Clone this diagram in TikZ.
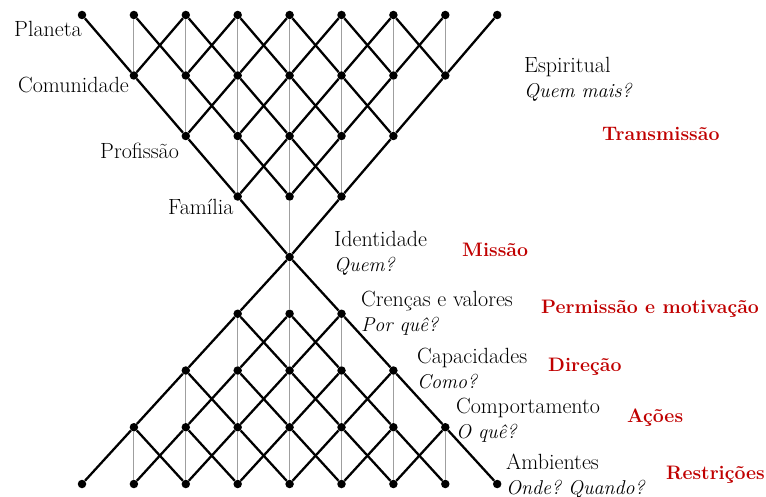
\documentclass[tikz,border=0pt]{standalone}
\usepackage{fontspec}
\usepackage{tikz}
\usetikzlibrary{positioning}
\definecolor{redlabel}{RGB}{192,0,0}
\newcommand\levelq[1]{{\fontsize{20}{25}\selectfont\itshape #1}}
\frenchspacing

\begin{document}
\begin{tikzpicture}[x=1pt,y=-1pt,font=\fontsize{22}{25}\selectfont,
  dot/.style={circle,fill=black,inner sep=0pt,minimum size=8.5pt},
  link/.style={line width=2.3pt,black},
  rung/.style={line width=1.1pt,gray!75},
  level/.style={anchor=west,inner sep=0pt,align=left},
  role/.style={anchor=west,inner sep=0pt,text=redlabel,font=\fontsize{19.5}{24}\selectfont\bfseries}]
\useasboundingbox (0,0) rectangle (766,497);
% lattice points, row k has indices 4-|4-k| .. 4+|4-k|
\foreach \k/\yy in {0/15,1/75.5,2/136,3/196.5,4/257,5/313.75,6/370.5,7/427.25,8/484} {
  \pgfmathtruncatemacro\lo{4-abs(4-\k)}
  \pgfmathtruncatemacro\hi{4+abs(4-\k)}
  \foreach \i in {\lo,...,\hi}
    \node[dot] (p-\k-\i) at ({82+51.9*\i},\yy) {};
}
% upper half
\foreach \k in {0,...,3} {
  \pgfmathtruncatemacro\n{\k+1}
  \pgfmathtruncatemacro\lo{4-abs(4-\n)}
  \pgfmathtruncatemacro\hi{4+abs(4-\n)}
  \foreach \i in {\lo,...,\hi} {
    \pgfmathtruncatemacro\im{\i-1}
    \pgfmathtruncatemacro\ip{\i+1}
    \draw[rung] (p-\k-\i) -- (p-\n-\i);
    \draw[link] (p-\k-\im) -- (p-\n-\i) -- (p-\k-\ip);
  }
}
% lower half
\foreach \k in {4,...,7} {
  \pgfmathtruncatemacro\n{\k+1}
  \pgfmathtruncatemacro\lo{4-abs(4-\k)}
  \pgfmathtruncatemacro\hi{4+abs(4-\k)}
  \foreach \i in {\lo,...,\hi} {
    \pgfmathtruncatemacro\im{\i-1}
    \pgfmathtruncatemacro\ip{\i+1}
    \draw[rung] (p-\k-\i) -- (p-\n-\i);
    \draw[link] (p-\n-\im) -- (p-\k-\i) -- (p-\n-\ip);
  }
}
% levels
\node[level] (planeta) at (14,29) {Planeta};
\node[level] (comunidade) at (18,85) {Comunidade};
\node[level] (profissao) at (100,151) {Profissão};
\node[level] (familia) at (168,207) {Família};
\node[level] (espiritual) at (524,79) {Espiritual\\\levelq{Quem mais?}};
\node[level] (identidade) at (334,253) {Identidade\\\levelq{Quem?}};
\node[level] (crencas) at (361,313) {Crenças e valores\\\levelq{Por quê?}};
\node[level] (capacidades) at (417,369) {Capacidades\\\levelq{Como?}};
\node[level] (comportamento) at (456,420) {Comportamento\\\levelq{O quê?}};
\node[level] (ambientes) at (506,476) {Ambientes\\\levelq{Onde? Quando?}};
% roles
\node[role] (transmissao) at (602,134) {Transmissão};
\node[role] (missao) at (462,250) {Missão};
\node[role] (permissao) at (541,309) {Permissão e motivação};
\node[role] (direcao) at (548,367) {Direção};
\node[role] (acoes) at (627,418) {Ações};
\node[role] (restricoes) at (666,475) {Restrições};
\end{tikzpicture}
\end{document}
